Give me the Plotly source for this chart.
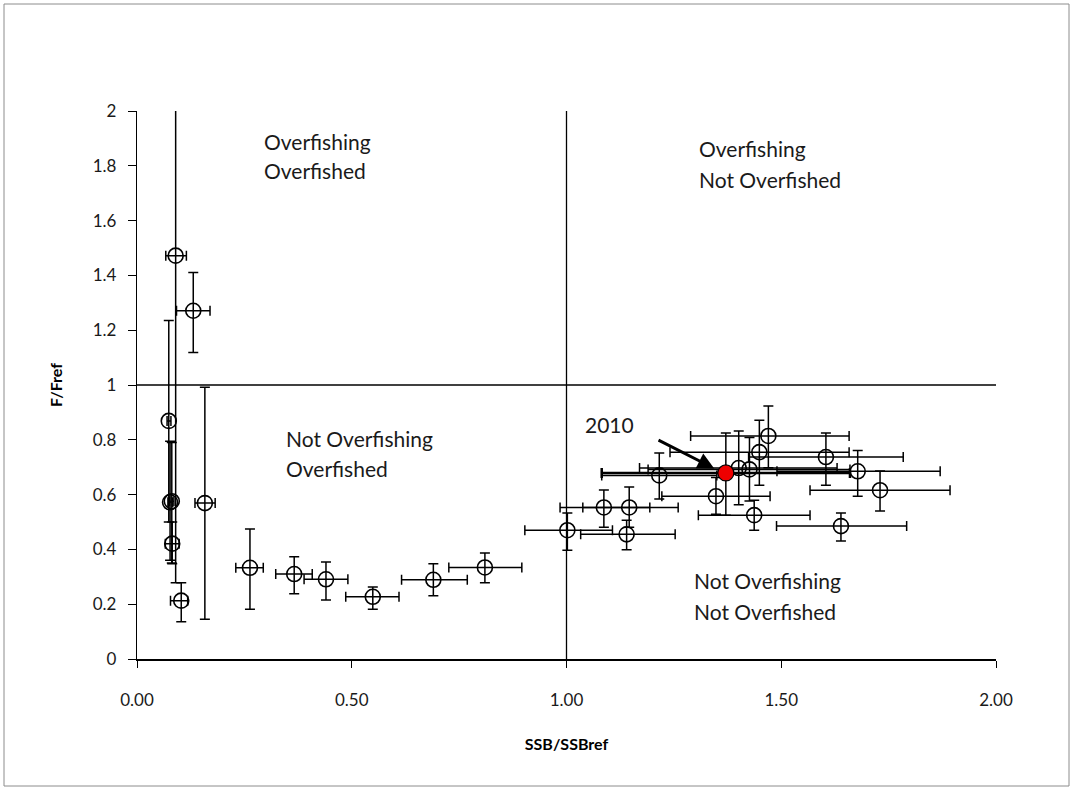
import plotly.graph_objects as go

# Open-circle points (SSB/SSBref, F/Fref) with error bar limits
ssb   = [0.090, 0.131, 0.074, 0.077, 0.081, 0.082, 0.103, 0.158,
         0.263, 0.366, 0.440, 0.549, 0.690, 0.810,
         1.002, 1.087, 1.146, 1.140, 1.216, 1.401, 1.426, 1.449, 1.470,
         1.604, 1.678, 1.730, 1.348, 1.437, 1.639]
f     = [1.472, 1.271, 0.869, 0.572, 0.576, 0.421, 0.213, 0.569,
         0.333, 0.310, 0.291, 0.227, 0.289, 0.334,
         0.470, 0.553, 0.553, 0.455, 0.670, 0.697, 0.692, 0.755, 0.814,
         0.737, 0.685, 0.616, 0.594, 0.525, 0.485]
ssb_lo = [0.067, 0.092, 0.070, 0.072, 0.076, 0.066, 0.078, 0.135,
          0.230, 0.323, 0.389, 0.486, 0.616, 0.726,
          0.903, 0.985, 1.038, 1.033, 1.082, 1.170, 1.190, 1.241, 1.289,
          1.424, 1.490, 1.567, 1.222, 1.307, 1.489]
ssb_hi = [0.115, 0.170, 0.079, 0.083, 0.086, 0.098, 0.118, 0.182,
          0.294, 0.408, 0.491, 0.610, 0.769, 0.896,
          1.107, 1.194, 1.260, 1.253, 1.350, 1.630, 1.660, 1.658, 1.658,
          1.784, 1.870, 1.893, 1.474, 1.567, 1.792]
f_lo  = [0.278, 1.119, 0.500, 0.360, 0.350, 0.348, 0.136, 0.145,
         0.182, 0.238, 0.215, 0.182, 0.231, 0.278,
         0.397, 0.481, 0.481, 0.399, 0.584, 0.563, 0.577, 0.634, 0.698,
         0.634, 0.594, 0.540, 0.528, 0.470, 0.431]
f_hi  = [2.050, 1.411, 1.235, 0.795, 0.790, 0.500, 0.278, 0.992,
         0.474, 0.373, 0.354, 0.263, 0.348, 0.387,
         0.533, 0.617, 0.628, 0.506, 0.752, 0.832, 0.808, 0.871, 0.923,
         0.825, 0.761, 0.686, 0.662, 0.579, 0.533]

# Highlighted 2010 point
ssb_2010 = [1.371]
f_2010 = [0.679]
ssb_2010_lo = [1.082]
ssb_2010_hi = [1.660]
f_2010_lo = [0.525]
f_2010_hi = [0.825]

x_ticks = [0, 0.5, 1.0, 1.5, 2.0]
x_tick_text = ["0.00", "0.50", "1.00", "1.50", "2.00"]
y_ticks = [0, 0.2, 0.4, 0.6, 0.8, 1.0, 1.2, 1.4, 1.6, 1.8, 2.0]
y_tick_text = ["0", "0.2", "0.4", "0.6", "0.8", "1", "1.2", "1.4", "1.6", "1.8", "2"]

FONT = "Lato, 'Open Sans', sans-serif"

def errs(c, lo, hi):
    return [h - v for v, h in zip(c, hi)], [v - l for v, l in zip(c, lo)]

ex_p, ex_m = errs(ssb, ssb_lo, ssb_hi)
ey_p, ey_m = errs(f, f_lo, f_hi)
rx_p, rx_m = errs(ssb_2010, ssb_2010_lo, ssb_2010_hi)
ry_p, ry_m = errs(f_2010, f_2010_lo, f_2010_hi)

fig = go.Figure()
fig.add_trace(go.Scatter(
    x=ssb, y=f, mode="markers",
    marker=dict(symbol="circle-open", size=15, color="black", line=dict(width=1.6, color="black")),
    error_x=dict(type="data", array=ex_p, arrayminus=ex_m, color="black", thickness=1.5, width=5),
    error_y=dict(type="data", array=ey_p, arrayminus=ey_m, color="black", thickness=1.5, width=5),
    showlegend=False, hoverinfo="skip"))
fig.add_trace(go.Scatter(
    x=ssb_2010, y=f_2010, mode="markers",
    marker=dict(symbol="circle", size=16, color="#ee0000", line=dict(width=1.2, color="black")),
    error_x=dict(type="data", array=rx_p, arrayminus=rx_m, color="black", thickness=2.5, width=5),
    error_y=dict(type="data", array=ry_p, arrayminus=ry_m, color="black", thickness=1.5, width=5),
    showlegend=False, hoverinfo="skip"))

# reference lines
fig.add_shape(type="line", x0=1, x1=1, y0=0, y1=2, xref="x", yref="y", line=dict(color="black", width=1.3))
fig.add_shape(type="line", x0=0, x1=2, y0=1, y1=1, xref="x", yref="y", line=dict(color="black", width=1.3))

# outer chart border
fig.add_shape(type="rect", xref="paper", yref="paper",
              x0=(4 - 137) / 859, x1=(1069 - 137) / 859,
              y0=(659 - 786) / 548, y1=(659 - 4) / 548,
              line=dict(color="#8c8c8c", width=1), layer="below")

def px2x(px):
    return (px - 137) / 429.5

def px2y(py):
    return (659 - py) / 274.5

labels = [
    ("Overfishing", 262, 141), ("Overfished", 262, 170),
    ("Overfishing", 697, 148), ("Not Overfished", 697, 179),
    ("Not Overfishing", 284, 438), ("Overfished", 284, 468),
    ("Not Overfishing", 692, 580), ("Not Overfished", 692, 611),
]
for txt, px, py in labels:
    fig.add_annotation(x=px2x(px), y=px2y(py), text=txt, showarrow=False,
                       xanchor="left", yanchor="middle", xref="x", yref="y",
                       font=dict(family=FONT, size=21, color="#1a1a1a"))

fig.add_annotation(x=px2x(609), y=px2y(424), text="2010", showarrow=False,
                   xanchor="center", yanchor="middle", xref="x", yref="y",
                   font=dict(family=FONT, size=21, color="#1a1a1a"))
# arrow pointing to 2010 point
fig.add_annotation(x=px2x(716), y=px2y(469), ax=px2x(657), ay=px2y(439),
                   axref="x", ayref="y", xref="x", yref="y", text="",
                   showarrow=True, arrowhead=2, arrowsize=1.1, arrowwidth=3,
                   arrowcolor="black", standoff=2)

fig.update_layout(
    width=1074, height=790,
    margin=dict(l=137, r=78, t=111, b=131),
    paper_bgcolor="white", plot_bgcolor="white",
    font=dict(family=FONT, color="black"),
    xaxis=dict(range=[0, 2], tickvals=x_ticks, ticktext=x_tick_text,
               showgrid=False, zeroline=False, showline=True, linecolor="black", linewidth=1.5,
               ticks="outside", ticklen=7, tickcolor="black", ticklabelstandoff=18,
               tickfont=dict(family=FONT, size=17, color="#1a1a1a"),
               title=dict(text="<b>SSB/SSBref</b>", font=dict(family=FONT, size=16), standoff=30)),
    yaxis=dict(range=[0, 2], tickvals=y_ticks, ticktext=y_tick_text,
               showgrid=False, zeroline=False, showline=True, linecolor="black", linewidth=1.3,
               ticks="outside", ticklen=8, tickcolor="black", ticklabelstandoff=8,
               tickfont=dict(family=FONT, size=17, color="#1a1a1a"),
               title=dict(text="<b>F/Fref</b>", font=dict(family=FONT, size=16), standoff=26)),
)

fig.write_html("out.html")
